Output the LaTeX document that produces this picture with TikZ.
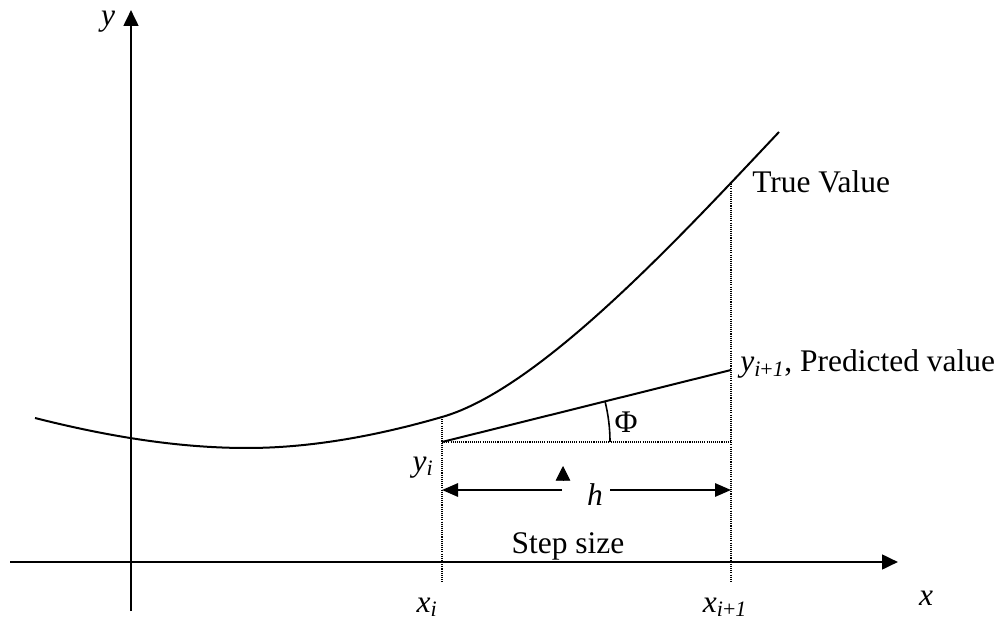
\documentclass[tikz,border=0pt]{standalone}
\usepackage{fontspec}
\setmainfont{Liberation Serif}
\usetikzlibrary{
    arrows.meta  % arrow tips
}

\begin{document}
\begin{tikzpicture}[
        x=0.75pt, y=0.75pt,
        axis/.style={
            line width=2pt,
            -{Triangle[length=12pt,width=11pt]}
        },
        curve/.style={line width=1.5pt},
        guide/.style={
            line width=0.8pt,
            dash pattern=on 0.8pt off 0.8pt
        },
        harrow/.style={
            line width=1.5pt,
            -{Triangle[length=12pt,width=10pt]}
        },
        lbl/.style={
            inner sep=0pt,
            anchor=base,
            font=\fontsize{23.6}{28}\selectfont
        }
    ]
    \useasboundingbox (0,0) rectangle (1006,632);

    % axes
    \coordinate (xstart) at (10,70);
    \coordinate (xend) at (898,70);
    \coordinate (ystart) at (131,21);
    \coordinate (yend) at (131,622);
    \draw[axis] (xstart) -- (xend);
    \draw[axis] (ystart) -- (yend);
    \node[lbl] (ylabel) at (108,606) {\itshape y};
    \node[lbl] (xlabel) at (926,27) {\itshape x};

    % true solution curve
    \coordinate (cstart) at (35,214);
    \coordinate (cmin) at (247,184);
    \coordinate (ti) at (442,215);
    \coordinate (ti1) at (731,450);
    \coordinate (cend) at (779,500);
    \draw[curve] (cstart) .. controls (110,195) and (180,184) .. (cmin)
        .. controls (320,184) and (390,200) .. (ti)
        .. controls (540,243) and (680,395) .. (cend);

    % Euler step
    \coordinate (yi) at (442,190);
    \coordinate (yi1) at (731,262);
    \coordinate (xi) at (442,49);
    \coordinate (xi1) at (731,49);
    \coordinate (hend) at (731,190);
    \draw[guide] (ti) -- (xi);
    \draw[guide] (ti1) -- (xi1);
    \draw[guide] (yi) -- (hend);
    \draw[curve] (yi) -- (yi1);

    % angle
    \coordinate (phistart) at (610,190);
    \draw[line width=1.2pt] (phistart) arc[start angle=0, end angle=14, radius=168];
    \node[lbl] (phi) at (626,199) {Φ};

    % step size h
    \coordinate (hl) at (562,142);
    \coordinate (hli) at (442,142);
    \coordinate (hr) at (610,142);
    \coordinate (hri) at (731,142);
    \draw[harrow] (hl) -- (hli);
    \draw[harrow] (hr) -- (hri);
    \coordinate (mk0) at (563,151);
    \coordinate (mk1) at (563,166);
    \draw[line width=0.5pt, -{Triangle[length=11pt,width=11pt]}] (mk0) -- (mk1);
    \node[lbl] (h) at (595,127) {\itshape h};

    % labels
    \node[lbl] (yilabel) at (423,161) {\textit{y}\textsubscript{\textit{i}}};
    \node[lbl] (xilabel) at (427,20) {\textit{x}\textsubscript{\textit{i}}};
    \node[lbl] (xi1label) at (725,20) {\textit{x}\textsubscript{\textit{i}+\textit{1}}};
    \node[lbl] (stepsize) at (568,79) {Step size};
    \node[lbl, anchor=base west] (truev) at (752,439) {True Value};
    \node[lbl, anchor=base west] (predv) at (740,260) {\textit{y}\textsubscript{\textit{i}+\textit{1}}, Predicted value};
\end{tikzpicture}
\end{document}
